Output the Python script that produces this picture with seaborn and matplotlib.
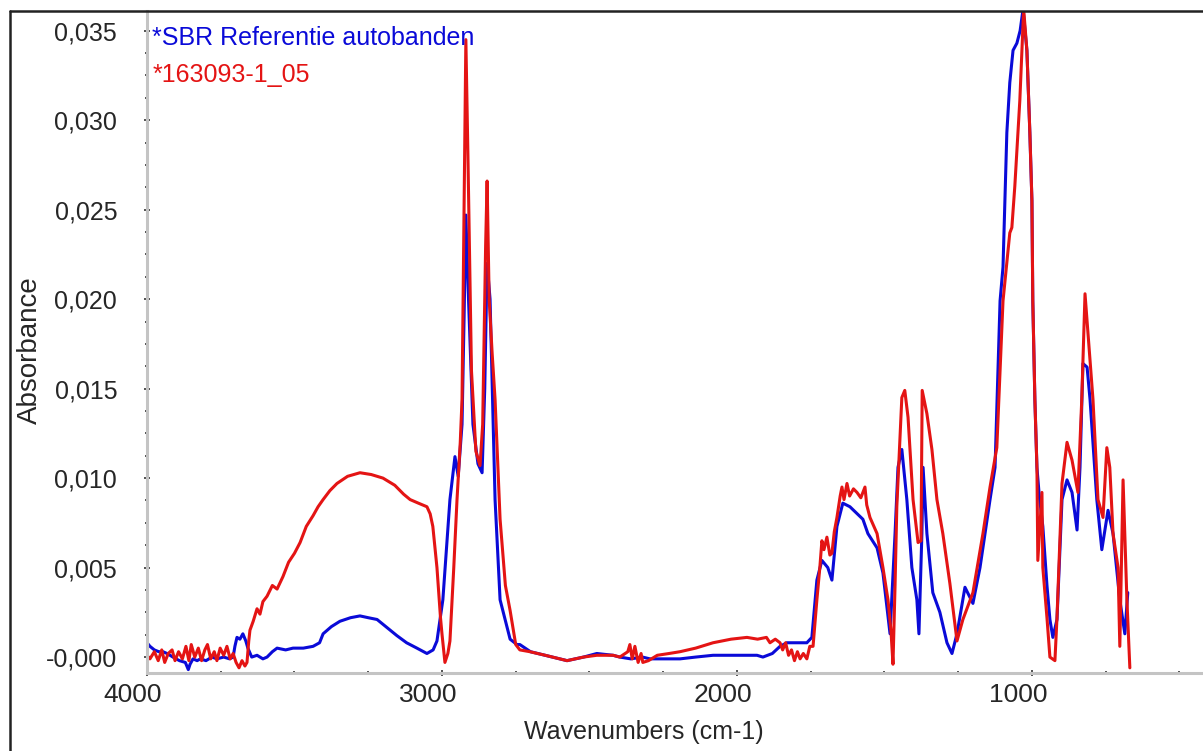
import matplotlib
matplotlib.use("Agg")
import matplotlib.pyplot as plt
import matplotlib.ticker as mticker
from matplotlib.lines import Line2D
from matplotlib.transforms import ScaledTranslation
import seaborn as sns

# FTIR spectra: wavenumber (cm-1) and absorbance
sbr_wn = [4000, 3990, 3975, 3960, 3946, 3932, 3912, 3890, 3870, 3860, 3854, 3844, 3830, 3819,
          3800, 3780, 3763, 3740, 3720, 3708, 3702, 3695, 3685, 3675, 3665, 3658, 3645, 3627,
          3607, 3593, 3575, 3559, 3530, 3505, 3470, 3437, 3415, 3403, 3375, 3346, 3310, 3278,
          3250, 3220, 3190, 3153, 3120, 3085, 3051, 3030, 3017, 2997, 2973, 2956, 2945, 2932,
          2925, 2919, 2910, 2895, 2878, 2864, 2855, 2847, 2837, 2820, 2803, 2769, 2746, 2736,
          2700, 2650, 2576, 2520, 2475, 2420, 2397, 2360, 2320, 2295, 2250, 2193, 2140, 2081,
          2000, 1932, 1912, 1880, 1854, 1831, 1800, 1763, 1746, 1729, 1712, 1692, 1678, 1661,
          1641, 1617, 1573, 1556, 1525, 1505, 1481, 1464, 1454, 1441, 1424, 1407, 1390, 1383,
          1373, 1369, 1356, 1336, 1312, 1288, 1271, 1254, 1227, 1200, 1176, 1142, 1125, 1108,
          1098, 1085, 1075, 1064, 1051, 1040, 1030, 1017, 1007, 1000, 997, 990, 983, 975, 963,
          949, 939, 929, 915, 898, 881, 864, 847, 837, 827, 813, 803, 780, 763, 742, 725, 702,
          685, 675]
sbr_abs = [0.0008, 0.0006, 0.0004, 0.0003, 0.0003, 0.0002, 0.0000, -0.0002, -0.0003, -0.0007,
           -0.0004, -0.0001, -0.0002, -0.0001, -0.0002, 0.0000, -0.0001, 0.0000, -0.0001, 0.0000,
           0.0006, 0.0011, 0.0010, 0.0013, 0.0009, 0.0005, 0.0000, 0.0001, -0.0001, 0.0000,
           0.0003, 0.0005, 0.0004, 0.0005, 0.0005, 0.0006, 0.0008, 0.0013, 0.0017, 0.0020,
           0.0022, 0.0023, 0.0022, 0.0021, 0.0017, 0.0012, 0.0008, 0.0005, 0.0002, 0.0004,
           0.0009, 0.0032, 0.0088, 0.0112, 0.0101, 0.0130, 0.0190, 0.0247, 0.0200, 0.0130,
           0.0108, 0.0103, 0.0150, 0.0220, 0.0200, 0.0088, 0.0032, 0.0010, 0.0007, 0.0007,
           0.0003, 0.0001, -0.0002, 0.0000, 0.0002, 0.0001, 0.0000, -0.0001, 0.0000, -0.0001,
           -0.0001, -0.0001, 0.0000, 0.0001, 0.0001, 0.0001, 0.0000, 0.0002, 0.0006, 0.0008,
           0.0008, 0.0008, 0.0011, 0.0043, 0.0054, 0.0050, 0.0043, 0.0073, 0.0086, 0.0084,
           0.0077, 0.0069, 0.0061, 0.0047, 0.0013, 0.0069, 0.0106, 0.0116, 0.0088, 0.0050,
           0.0032, 0.0013, 0.0069, 0.0106, 0.0069, 0.0036, 0.0025, 0.0008, 0.0002, 0.0013,
           0.0039, 0.0030, 0.0050, 0.0088, 0.0106, 0.0199, 0.0218, 0.0293, 0.0321, 0.0339,
           0.0343, 0.0350, 0.0362, 0.0339, 0.0293, 0.0255, 0.0199, 0.0144, 0.0106, 0.0090,
           0.0073, 0.0040, 0.0021, 0.0011, 0.0021, 0.0088, 0.0099, 0.0092, 0.0071, 0.0106,
           0.0164, 0.0162, 0.0144, 0.0088, 0.0060, 0.0082, 0.0069, 0.0032, 0.0013, 0.0036]

sample_wn = [4000, 3990, 3975, 3962, 3950, 3940, 3928, 3915, 3905, 3893, 3880, 3868, 3858, 3850,
             3838, 3826, 3815, 3804, 3795, 3784, 3772, 3763, 3752, 3740, 3729, 3718, 3708, 3698,
             3688, 3678, 3668, 3661, 3655, 3651, 3640, 3627, 3617, 3607, 3593, 3575, 3559, 3539,
             3520, 3500, 3481, 3460, 3437, 3420, 3403, 3380, 3356, 3320, 3278, 3240, 3200, 3160,
             3130, 3108, 3080, 3051, 3040, 3031, 3017, 3005, 3000, 2990, 2980, 2973, 2960, 2949,
             2938, 2932, 2925, 2919, 2912, 2900, 2885, 2871, 2862, 2852, 2847, 2840, 2830, 2820,
             2803, 2785, 2769, 2750, 2736, 2702, 2650, 2576, 2520, 2475, 2420, 2397, 2370, 2363,
             2355, 2346, 2335, 2325, 2319, 2300, 2270, 2230, 2193, 2140, 2081, 2020, 1966, 1930,
             1900, 1888, 1870, 1854, 1845, 1835, 1825, 1815, 1805, 1795, 1786, 1775, 1763, 1753,
             1742, 1729, 1719, 1712, 1705, 1695, 1685, 1678, 1670, 1661, 1650, 1644, 1637, 1627,
             1618, 1605, 1593, 1580, 1566, 1560, 1549, 1525, 1505, 1488, 1478, 1471, 1464, 1458,
             1441, 1431, 1420, 1403, 1386, 1376, 1372, 1356, 1339, 1322, 1302, 1278, 1254, 1234,
             1200, 1166, 1142, 1119, 1098, 1075, 1068, 1058, 1041, 1034, 1028, 1017, 1007, 1000,
             997, 990, 983, 980, 966, 963, 949, 939, 922, 915, 898, 881, 864, 844, 831, 820, 810,
             793, 776, 759, 746, 736, 725, 708, 702, 691, 685, 678, 668]
sample_abs = [0.0001, -0.0001, 0.0003, -0.0002, 0.0004, -0.0003, 0.0002, 0.0004, -0.0002, 0.0003,
              -0.0001, 0.0006, -0.0002, 0.0007, 0.0000, 0.0005, -0.0002, 0.0004, 0.0007, -0.0001,
              0.0003, -0.0002, 0.0005, 0.0001, 0.0006, -0.0001, 0.0002, -0.0003, -0.0006, -0.0002,
              -0.0005, -0.0003, 0.0009, 0.0015, 0.0020, 0.0027, 0.0024, 0.0031, 0.0034, 0.0040,
              0.0038, 0.0045, 0.0053, 0.0058, 0.0064, 0.0073, 0.0079, 0.0084, 0.0088, 0.0093,
              0.0097, 0.0101, 0.0103, 0.0102, 0.0100, 0.0096, 0.0091, 0.0088, 0.0086, 0.0084,
              0.0080, 0.0073, 0.0050, 0.0022, 0.0013, -0.0003, 0.0002, 0.0009, 0.0050, 0.0088,
              0.0120, 0.0144, 0.0250, 0.0345, 0.0280, 0.0160, 0.0115, 0.0107, 0.0130, 0.0230,
              0.0266, 0.0200, 0.0170, 0.0144, 0.0077, 0.0040, 0.0026, 0.0007, 0.0004, 0.0003,
              0.0001, -0.0002, 0.0000, 0.0001, 0.0001, 0.0000, 0.0003, 0.0007, -0.0001, 0.0006,
              -0.0003, 0.0002, -0.0003, -0.0002, 0.0001, 0.0002, 0.0003, 0.0005, 0.0008, 0.0010,
              0.0011, 0.0010, 0.0011, 0.0008, 0.0010, 0.0008, 0.0004, 0.0008, 0.0001, 0.0004,
              -0.0002, 0.0003, -0.0001, 0.0002, -0.0001, 0.0006, 0.0006, 0.0032, 0.0050, 0.0065,
              0.0060, 0.0067, 0.0057, 0.0058, 0.0070, 0.0078, 0.0090, 0.0095, 0.0088, 0.0097,
              0.0090, 0.0094, 0.0092, 0.0089, 0.0095, 0.0085, 0.0078, 0.0069, 0.0050, 0.0032,
              0.0015, -0.0004, 0.0040, 0.0084, 0.0145, 0.0149, 0.0134, 0.0088, 0.0064, 0.0065,
              0.0149, 0.0136, 0.0116, 0.0088, 0.0069, 0.0041, 0.0009, 0.0021, 0.0036, 0.0069,
              0.0095, 0.0117, 0.0199, 0.0237, 0.0240, 0.0263, 0.0311, 0.0339, 0.0362, 0.0339,
              0.0293, 0.0255, 0.0199, 0.0144, 0.0106, 0.0054, 0.0092, 0.0050, 0.0022, 0.0000,
              -0.0002, 0.0022, 0.0097, 0.0120, 0.0110, 0.0092, 0.0144, 0.0203, 0.0181, 0.0144,
              0.0088, 0.0078, 0.0117, 0.0106, 0.0069, 0.0050, 0.0006, 0.0099, 0.0069, 0.0032,
              -0.0006]

series_names = ["*SBR Referentie autobanden", "*163093-1_05"]
series_colors = ["#0a0ad8", "#e41414"]

x_ticks = [4000, 3000, 2000, 1000]
x_tick_labels = ["4000", "3000", "2000", "1000"]
y_ticks = [0.0, 0.005, 0.010, 0.015, 0.020, 0.025, 0.030, 0.035]
y_tick_labels = ["-0,000", "0,005", "0,010", "0,015", "0,020", "0,025", "0,030", "0,035"]

sns.set_style("white")
plt.rcParams["font.family"] = ["Liberation Sans", "DejaVu Sans"]

fig = plt.figure(figsize=(12.03, 7.51), dpi=100)
ax = fig.add_axes([147 / 1203, 78 / 751, 1056 / 1203, 662 / 751])

sns.lineplot(x=sbr_wn, y=sbr_abs, color=series_colors[0], linewidth=2.2,
             estimator=None, ax=ax)
sns.lineplot(x=sample_wn, y=sample_abs, color=series_colors[1], linewidth=2.2,
             estimator=None, ax=ax)

ax.set_xlim(4000, 420)
ax.set_ylim(-0.00089, 0.0361)

ax.xaxis.set_major_locator(mticker.FixedLocator(x_ticks))
ax.xaxis.set_major_formatter(mticker.FixedFormatter(x_tick_labels))
ax.xaxis.set_minor_locator(mticker.MultipleLocator(250))
ax.yaxis.set_major_locator(mticker.FixedLocator(y_ticks))
ax.yaxis.set_major_formatter(mticker.FixedFormatter(y_tick_labels))
ax.yaxis.set_minor_locator(mticker.MultipleLocator(0.00125))

ax.tick_params(axis="both", which="both", direction="inout", color="#333333", width=1.2,
               bottom=True, left=True)
ax.tick_params(axis="both", which="major", length=5)
ax.tick_params(axis="both", which="minor", length=3)
ax.tick_params(axis="x", which="major", labelsize=19, pad=5)
ax.tick_params(axis="y", which="major", labelsize=18, pad=19)

for side in ["top", "right"]:
    ax.spines[side].set_visible(False)
for side in ["left", "bottom"]:
    ax.spines[side].set_color("#c4c4c4")
    ax.spines[side].set_linewidth(2.2)

# x tick labels sit a little left of their ticks in the original
shift = ScaledTranslation(-14 / 100, 0, fig.dpi_scale_trans)
for lab in ax.get_xticklabels():
    lab.set_transform(lab.get_transform() + shift)

ax.set_xlabel("Wavenumbers (cm-1)", fontsize=18, va="center")
ax.xaxis.set_label_coords(0.47, -0.089)
ax.set_ylabel("Absorbance", fontsize=20, va="center")
ax.yaxis.set_label_coords(-0.111, 0.488)

ax.text(0.005, 0.959, series_names[0], transform=ax.transAxes, color=series_colors[0],
        fontsize=18, ha="left", va="center")
ax.text(0.005, 0.903, series_names[1], transform=ax.transAxes, color=series_colors[1],
        fontsize=18, ha="left", va="center")

# black frame of the original window (left and top edges)
fx = 10 / 1203
fy = 1 - 11 / 751
fig.add_artist(Line2D([fx, fx], [0, fy], color="#222222", linewidth=1.8, transform=fig.transFigure))
fig.add_artist(Line2D([fx, 1], [fy, fy], color="#222222", linewidth=1.8, transform=fig.transFigure))

fig.savefig("out.png", dpi=100)
